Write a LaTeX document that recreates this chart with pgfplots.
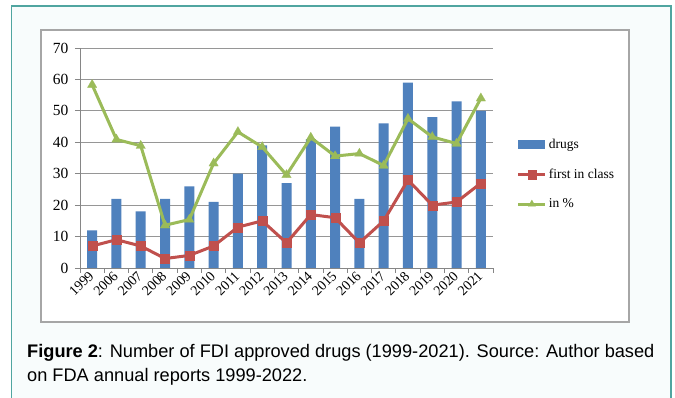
\documentclass[border=0pt]{standalone}
\usepackage{pgfplots}
\pgfplotsset{compat=1.18}
\usepackage{fontspec}
\setmainfont{Liberation Serif}
\newfontfamily\capfont{Liberation Sans}
\definecolor{xblue}{RGB}{79,129,189}
\definecolor{xred}{RGB}{192,80,77}
\definecolor{xgreen}{RGB}{155,187,89}
\definecolor{tealb}{RGB}{80,165,160}
\definecolor{bgc}{RGB}{248,252,252}
\definecolor{axc}{RGB}{134,134,134}
\definecolor{gridc}{RGB}{150,150,150}
\pgfplotsset{
  lineleg/.style={legend image code/.code={\draw[mark repeat=2,mark phase=2,##1, mark size=4.3pt] plot coordinates {(0pt,0pt) (13.5pt,0pt) (27pt,0pt)};}},
  barleg/.style={legend image code/.code={\fill[xblue] (0pt,-4.5pt) rectangle (27pt,4.5pt);}}
}
\begin{document}
\begin{tikzpicture}[x=1pt,y=1pt]
\useasboundingbox (0,0) rectangle (675,398);
\fill[white] (0,0) rectangle (675,398);
\fill[bgc] (11.5,0) rectangle (671,392);
\draw[tealb, line width=1.2pt] (11.5,-2) -- (11.5,392) -- (671,392) -- (671,-2);
\draw[gray!70, line width=1.2pt, fill=white] (41,76) rectangle (629,368);
\begin{axis}[
  at={(80pt,130pt)}, anchor=south west,
  scale only axis, width=413pt, height=220pt,
  xmin=-0.5, xmax=16.5, ymin=0, ymax=70,
  axis lines=left, axis line style={-, axc, line width=0.8pt},
  ytick={0,10,...,70}, ymajorgrids, grid style={gridc, line width=0.8pt},
  xtick={0,...,16},
  xticklabels={1999,2006,2007,2008,2009,2010,2011,2012,2013,2014,2015,2016,2017,2018,2019,2020,2021},
  major x tick style={draw=none},
  minor xtick={-0.5,0.5,...,16.5},
  minor tick length=5pt, major tick length=5pt,
  tick align=outside, tick style={axc, line width=0.8pt},
  /pgf/number format/assume math mode=true,
  yticklabel style={font=\fontsize{15.5}{15.5}\selectfont, xshift=-3pt},
  xticklabel style={font=\fontsize{14}{14}\selectfont, rotate=45, anchor=east, inner sep=1pt},
  legend style={at={(1.05,0.605)}, anchor=north west, draw=none, fill=none,
    font=\fontsize{13.5}{13.5}\selectfont, row sep=15pt,
    /tikz/every even column/.append style={column sep=1pt}},
  legend cell align=left,
]
\addplot[ybar, bar width=10pt, bar shift=0pt, fill=xblue, draw=none, barleg]
coordinates {(0,12) (1,22) (2,18) (3,22) (4,26) (5,21) (6,30) (7,39) (8,27) (9,41) (10,45) (11,22) (12,46) (13,59) (14,48) (15,53) (16,50)};
\addlegendentry{drugs}
\addplot[xred, line width=3pt, mark=square*, mark size=4.5pt, mark options={line width=0.1pt, fill=xred}, lineleg]
coordinates {(0,7) (1,9) (2,7) (3,3) (4,4) (5,7) (6,13) (7,15) (8,8) (9,17) (10,16) (11,8) (12,15) (13,28) (14,20) (15,21) (16,27)};
\addlegendentry{first in class}
\addplot[xgreen, line width=3pt, mark=triangle*, mark size=5.5pt, mark options={line width=0.1pt, fill=xgreen}, lineleg]
coordinates {(0,58.3) (1,40.9) (2,38.9) (3,13.6) (4,15.4) (5,33.3) (6,43.3) (7,38.5) (8,29.6) (9,41.5) (10,35.6) (11,36.4) (12,32.6) (13,47.5) (14,41.7) (15,39.6) (16,54.0)};
\addlegendentry{in \%}
\end{axis}
\node[anchor=base west, inner sep=0, font=\capfont\fontsize{18.2}{18.2}\selectfont] at (27,40) {\textbf{Figure 2}: Number of FDI approved drugs (1999-2021). Source: Author based};
\node[anchor=base west, inner sep=0, font=\capfont\fontsize{18.2}{18.2}\selectfont] at (27,16) {on FDA annual reports 1999-2022.};
\end{tikzpicture}
\end{document}
